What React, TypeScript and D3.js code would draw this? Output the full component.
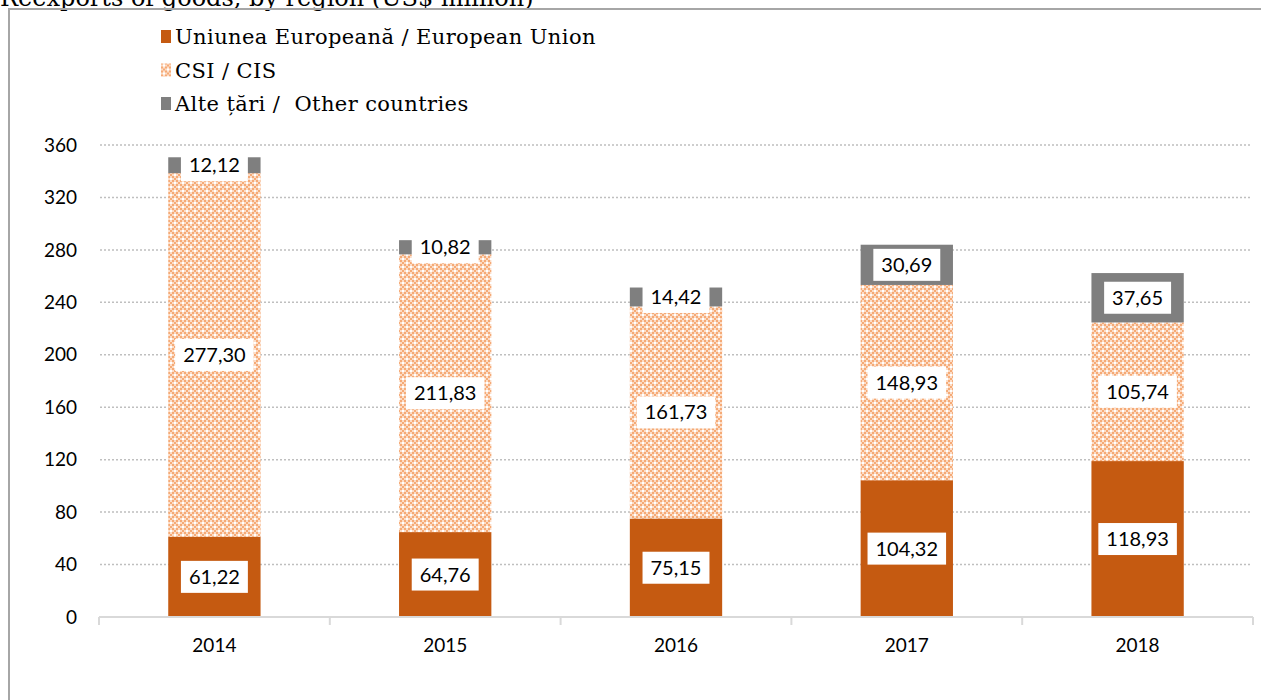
import React from 'react';
import * as d3 from 'd3';

// Data (US$ million)
const years = ['2014', '2015', '2016', '2017', '2018'];
const euValues = [61.22, 64.76, 75.15, 104.32, 118.93];
const cisValues = [277.3, 211.83, 161.73, 148.93, 105.74];
const otherValues = [12.12, 10.82, 14.42, 30.69, 37.65];
const yTicks = [0, 40, 80, 120, 160, 200, 240, 280, 320, 360];
const seriesNames = [
	'Uniunea Europeană / European Union',
	'CSI / CIS',
	'Alte țări /  Other countries',
];

const W = 1261;
const H = 700;
const ORANGE = '#c55a11';
const GREY = '#7f7f7f';
const SALMON = '#f5aa76';
const LIGHT = '#fcdcc6';
const LABEL_FONT = 'Lato, "Open Sans", sans-serif';
const SERIF = '"DejaVu Serif", serif';

let ctx: CanvasRenderingContext2D | null = null;
function textWidth(s: string, font: string) {
	if (!ctx) ctx = document.createElement('canvas').getContext('2d');
	if (!ctx) return s.length * 10;
	ctx.font = font;
	return ctx.measureText(s).width;
}

const fmt = (v: number) => d3.format('.2f')(v).replace('.', ',');

// checkerboard cells of the CIS pattern (8x8 tile, 2px cells)
const checkCells = d3.range(16).map((k) => ({ cx: (k % 4) * 2, cy: Math.floor(k / 4) * 2 }));

export default function App() {
	const x = d3.scaleBand().domain(years).range([99, 1253]).paddingInner(0.6).paddingOuter(0.3);
	const y = d3.scaleLinear().domain([0, 360]).range([617, 145]);

	const rows = years.map((yr, i) => ({
		year: yr,
		eu: euValues[i],
		cis: cisValues[i],
		other: otherValues[i],
	}));
	const stack = d3.stack<any>().keys(['eu', 'cis', 'other'])(rows);
	const fills = [ORANGE, 'url(#csiPattern)', GREY];

	const step = x.step();
	const boundaries = d3.range(years.length + 1).map((i) => 99 + i * step);

	return (
		<div>
			<style>{'body{margin:0}'}</style>
			<svg width={W} height={H} style={{ display: 'block', background: '#fff' }}>
				<defs>
					<pattern id="csiPattern" width="8" height="8" patternUnits="userSpaceOnUse">
						<rect width="8" height="8" fill={LIGHT} />
						{checkCells.map((c, k) =>
							((c.cx + c.cy) / 2) % 2 === 0 ? (
								<rect key={k} x={c.cx} y={c.cy} width="2" height="2" fill={SALMON} />
							) : null
						)}
						<rect x="2" y="2" width="2" height="2" fill="#fff" />
						<rect x="6" y="6" width="2" height="2" fill="#fff" />
					</pattern>
				</defs>

				{/* title, cut at top */}
				<text x={0} y={6} fontFamily={SERIF} fontSize={24} fill="#000">
					Reexports of goods, by region (US$ million)
				</text>

				{/* frame */}
				<rect x={9} y={9} width={W + 10} height={H + 10} fill="none" stroke="#a6a6a6" strokeWidth={2} />

				{/* legend */}
				{seriesNames.map((name, i) => (
					<g key={name} transform={`translate(161,${37 + i * 33.5})`}>
						<rect x={0} y={-7} width={10} height={13} fill={fills[i]} />
						<text
							x={14}
							y={0}
							dy="0.35em"
							fontFamily={SERIF}
							fontSize={21}
							letterSpacing={0.4}
							fill="#000"
							style={{ whiteSpace: 'pre' }}
						>
							{name}
						</text>
					</g>
				))}

				{/* grid + y axis */}
				{yTicks.map((t) => (
					<g key={t}>
						{t > 0 && (
							<line x1={100} x2={1252} y1={y(t)} y2={y(t)} stroke="#bfbfbf" strokeWidth={1.5} strokeDasharray="2,2" />
						)}
						<text x={77} y={y(t)} dy="0.35em" textAnchor="end" fontFamily={LABEL_FONT} fontSize={19} fill="#000">
							{t}
						</text>
					</g>
				))}

				{/* bars */}
				{stack.map((layer, li) => (
					<g key={layer.key}>
						{layer.map((d, i) => (
							<rect
								key={i}
								x={x(years[i])}
								y={y(d[1])}
								width={x.bandwidth()}
								height={y(d[0]) - y(d[1])}
								fill={fills[li]}
							/>
						))}
					</g>
				))}

				{/* value labels */}
				{stack.map((layer) => (
					<g key={`lbl-${layer.key}`}>
						{layer.map((d, i) => {
							const label = fmt(d[1] - d[0]);
							const cx = (x(years[i]) as number) + x.bandwidth() / 2;
							const cy = (y(d[0]) + y(d[1])) / 2;
							const w = textWidth(label, `20px ${LABEL_FONT}`) + 16;
							const h = 32;
							return (
								<g key={i}>
									<rect x={cx - w / 2} y={cy - h / 2} width={w} height={h} fill="#fff" />
									<text x={cx} y={cy} dy="0.35em" textAnchor="middle" fontFamily={LABEL_FONT} fontSize={20} fill="#000">
										{label}
									</text>
								</g>
							);
						})}
					</g>
				))}

				{/* x axis */}
				<line x1={99} x2={1253} y1={y(0)} y2={y(0)} stroke="#d9d9d9" strokeWidth={2} />
				{boundaries.map((bx) => (
					<line key={bx} x1={bx} x2={bx} y1={y(0)} y2={y(0) + 8} stroke="#d9d9d9" strokeWidth={2} />
				))}
				{years.map((yr) => (
					<text
						key={yr}
						x={(x(yr) as number) + x.bandwidth() / 2}
						y={645}
						dy="0.35em"
						textAnchor="middle"
						fontFamily={LABEL_FONT}
						fontSize={19}
						fill="#000"
					>
						{yr}
					</text>
				))}
			</svg>
		</div>
	);
}
